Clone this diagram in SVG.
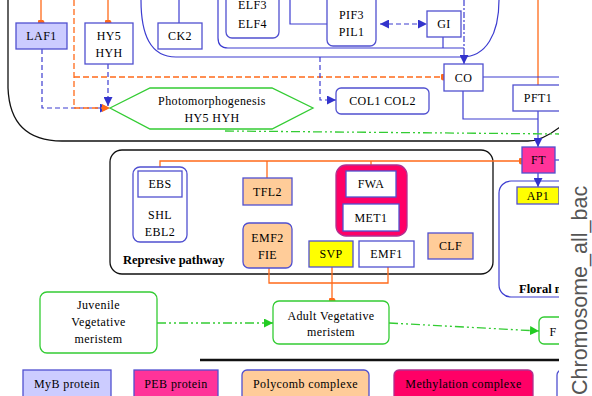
<svg xmlns="http://www.w3.org/2000/svg" width="592" height="396" viewBox="0 0 592 396">
<style>
.t{font-family:"Liberation Serif",serif;font-size:12px;fill:#000;text-anchor:middle;letter-spacing:0.4px}
.b{font-family:"Liberation Serif",serif;font-size:12.5px;font-weight:bold;fill:#000}
.box{fill:#fff;stroke:#5050d0;stroke-width:1.3}
.myb{fill:#ccccff;stroke:#5050d0;stroke-width:1.3}
.peb{fill:#ff3399;stroke:#5050d0;stroke-width:1.3}
.poly{fill:#ffcc99;stroke:#5050d0;stroke-width:1.3}
.meth{fill:#ff0066;stroke:#b03090;stroke-width:1.3}
.yel{fill:#ffff00;stroke:#5050d0;stroke-width:1.3}
.gbox{fill:#fff;stroke:#33cc33;stroke-width:1.3}
.bl{fill:none;stroke:#3c3cd0;stroke-width:1.2}
.bd{stroke-dasharray:5,3}
.or{fill:none;stroke:#ff6a1a;stroke-width:1.3}
.od{stroke-dasharray:6,3}
.gr{fill:none;stroke:#33cc33;stroke-width:1.3;stroke-dasharray:9,3,2,3,2,3}
.blk{fill:none;stroke:#111;stroke-width:1.3}
</style>
<defs>
<marker id="ab" viewBox="0 0 10 10" refX="10" refY="5" markerWidth="9" markerHeight="9" markerUnits="userSpaceOnUse" orient="auto-start-reverse"><path d="M0,0 L10,5 L0,10 z" fill="#3333cc"/></marker>
<marker id="ag" viewBox="0 0 10 10" refX="10" refY="5" markerWidth="9" markerHeight="9" markerUnits="userSpaceOnUse" orient="auto"><path d="M0,0 L10,5 L0,10 z" fill="#22cc22"/></marker>
<marker id="od" viewBox="0 0 10 10" refX="5" refY="5" markerWidth="7" markerHeight="7" markerUnits="userSpaceOnUse"><circle cx="5" cy="5" r="5" fill="#ff6a1a"/></marker>
<marker id="oa" viewBox="0 0 10 10" refX="10" refY="5" markerWidth="8" markerHeight="8" markerUnits="userSpaceOnUse" orient="auto"><path d="M0,0 L10,5 L0,10 z" fill="#ff6a1a"/></marker>
<clipPath id="cl"><rect x="0" y="0" width="559" height="396"/></clipPath>
</defs>
<rect width="592" height="396" fill="#fff"/>
<g clip-path="url(#cl)">
<g id="containers">
<path class="blk" d="M8,0 L8,88 Q10,141 62,141 L528,141 Q542,141 560,127"/>
<path class="bl" d="M141,0 C141,34 150,57 176,57 L462,57 C486,57 499,34 499,0"/>
<path class="bl" d="M218,0 L218,38 Q218,48 228,48 L464,48"/>
<rect class="blk" x="110" y="150" width="383" height="124" rx="12"/>
<rect class="bl" x="499" y="181" width="90" height="116" rx="12"/>
<text class="b" x="123" y="264">Represive pathway</text>
<text class="b" x="519" y="293">Floral meristem</text>
</g>
<g id="connectors">
<path class="or" d="M41,0 L41,23" marker-end="url(#od)"/>
<path class="or" d="M108,0 L108,23" marker-end="url(#od)"/>
<path class="bl" d="M179,0 L179,23"/>
<path class="bl" d="M290,0 L290,24 L327,24"/>
<path class="bl bd" d="M380,24 L427,24" marker-start="url(#ab)" marker-end="url(#ab)"/>
<path class="bl" d="M443,37 L443,48"/>
<path class="bl" d="M464,48 L464,64" marker-end="url(#ab)"/>
<path class="bl" d="M464,0 L464,48" stroke-dasharray="6,2,2,2"/>
<path class="bl bd" d="M42,49 L42,108 L109,108" marker-end="url(#ab)"/>
<path class="bl bd" d="M108,64 L108,106" marker-end="url(#ab)"/>
<path class="or od" d="M74,0 L74,108 L110,108" marker-end="url(#oa)"/>
<path class="or od" d="M74,77 L444,77" marker-end="url(#od)"/>
<path class="bl bd" d="M320,57 L320,100 L336,100" marker-end="url(#ab)"/>
<path class="or" d="M538,0 L538,85"/>
<path class="bl" d="M483,77 L560,77"/>
<path class="bl" d="M463,91 L463,119 L538,119"/>
<path class="bl" d="M538,111 L538,147" marker-end="url(#ab)"/>
<path class="bl" d="M538,173 L538,187" marker-end="url(#ab)"/>
<path class="bl" d="M555,160 L560,160"/>
<path class="gr" d="M225,131 L560,134"/>
<path class="or" d="M160,167 L160,161 L522,161" marker-end="url(#od)"/>
<path class="or" d="M267,161 L267,178"/>
<path class="or" d="M371,161 L371,165"/>
<path class="or" d="M269,268 L269,283 L388,283 L388,267"/>
<path class="or" d="M332,267 L332,301" marker-end="url(#od)"/>
<path class="gr" d="M157,323 L273,323" marker-end="url(#ag)"/>
<path class="gr" d="M389,323 L539,331" marker-end="url(#ag)"/>
<path d="M200,360 L560,360" stroke="#111" stroke-width="2.6"/>
</g>
<g id="LAF1"><rect class="myb" x="16" y="23" width="51" height="26"/><text class="t" x="41.5" y="40">LAF1</text></g>
<g id="HY5"><rect class="box" x="85" y="23" width="48" height="41"/><text class="t" x="109" y="40">HY5</text><text class="t" x="109" y="57">HYH</text></g>
<g id="CK2"><rect class="box" x="158" y="23" width="44" height="26"/><text class="t" x="180" y="40">CK2</text></g>
<g id="ELF"><rect class="box" x="226" y="-12" width="53" height="50" rx="6"/><text class="t" x="252.5" y="9">ELF3</text><text class="t" x="252.5" y="28">ELF4</text></g>
<g id="PIF3"><rect class="box" x="327" y="-12" width="49" height="58" rx="6"/><text class="t" x="351.5" y="19">PIF3</text><text class="t" x="351.5" y="36">PIL1</text></g>
<g id="GI"><rect class="box" x="427" y="11" width="34" height="26"/><text class="t" x="444" y="28">GI</text></g>
<g id="CO"><rect class="box" x="444" y="64" width="39" height="27"/><text class="t" x="463.5" y="81.5">CO</text></g>
<g id="PFT1"><rect class="box" x="513" y="85" width="50" height="26"/><text class="t" x="538" y="102">PFT1</text></g>
<g id="COL"><rect class="box" x="336" y="88" width="93" height="26" rx="5"/><text class="t" x="382.5" y="105">COL1 COL2</text></g>
<g id="Photo"><polygon points="110,108 150,88 272,88 313,108 272,129 150,129" fill="#fff" stroke="#33cc33" stroke-width="1.3"/><text class="t" x="212" y="105" letter-spacing="0">Photomorphogenesis</text><text class="t" x="212" y="122">HY5 HYH</text></g>
<g id="FT"><rect class="peb" x="522" y="147" width="33" height="26"/><text class="t" x="538.5" y="164">FT</text></g>
<g id="AP1"><rect class="yel" x="517" y="187" width="42" height="17"/><text class="t" x="538" y="200">AP1</text></g>
<g id="SHL"><rect class="box" x="133" y="167" width="54" height="75" rx="7"/><rect class="box" x="138" y="171" width="44" height="26"/><text class="t" x="160" y="188">EBS</text><text class="t" x="160" y="219">SHL</text><text class="t" x="160" y="236">EBL2</text></g>
<g id="TFL2"><rect class="poly" x="243" y="178" width="49" height="27"/><text class="t" x="267.5" y="196">TFL2</text></g>
<g id="EMF2"><rect class="poly" x="243" y="223" width="49" height="45" rx="6"/><text class="t" x="267.5" y="242">EMF2</text><text class="t" x="267.5" y="259">FIE</text></g>
<g id="FWA"><rect class="meth" x="336" y="165" width="71" height="71" rx="10"/><rect class="box" x="346" y="171" width="50" height="26"/><text class="t" x="371" y="188">FWA</text><rect class="box" x="343" y="204" width="56" height="27"/><text class="t" x="371" y="222">MET1</text></g>
<g id="SVP"><rect class="yel" x="309" y="241" width="44" height="26"/><text class="t" x="331" y="258">SVP</text></g>
<g id="EMF1"><rect class="box" x="359" y="241" width="55" height="26"/><text class="t" x="386.5" y="258">EMF1</text></g>
<g id="CLF"><rect class="poly" x="428" y="233" width="45" height="26"/><text class="t" x="450.5" y="250">CLF</text></g>
<g id="Juvenile"><rect class="gbox" x="40" y="292" width="117" height="61" rx="7"/><text class="t" x="98.5" y="309" letter-spacing="0">Juvenile</text><text class="t" x="98.5" y="326" letter-spacing="0">Vegetative</text><text class="t" x="98.5" y="343" letter-spacing="0">meristem</text></g>
<g id="Adult"><rect class="gbox" x="273" y="301" width="116" height="43" rx="6"/><text class="t" x="331" y="320" letter-spacing="0">Adult Vegetative</text><text class="t" x="331" y="336" letter-spacing="0">meristem</text></g>
<g id="FloralMeristemBox"><rect class="gbox" x="539" y="317" width="40" height="27" rx="5"/><text class="t" x="553" y="336">F</text></g>
<g id="legend">
<rect class="myb" x="23" y="370" width="88" height="32"/><text class="t" x="67" y="388" letter-spacing="0">MyB protein</text>
<rect class="peb" x="134" y="370" width="84" height="32"/><text class="t" x="176" y="388" letter-spacing="0">PEB protein</text>
<rect class="poly" x="242" y="370" width="127" height="32" rx="5"/><text class="t" x="305.5" y="388" letter-spacing="0">Polycomb complexe</text>
<rect class="meth" x="394" y="370" width="139" height="32" rx="5" stroke="#5050d0"/><text class="t" x="463.5" y="388" letter-spacing="0">Methylation complexe</text>
<rect class="box" x="557" y="370" width="40" height="32" rx="5"/>
</g>
</g>
<text x="587" y="395" transform="rotate(-90 587 395)" font-family="Liberation Sans, Arial, sans-serif" font-size="21.5" fill="#555">Chromosome_all_bac</text>
</svg>
